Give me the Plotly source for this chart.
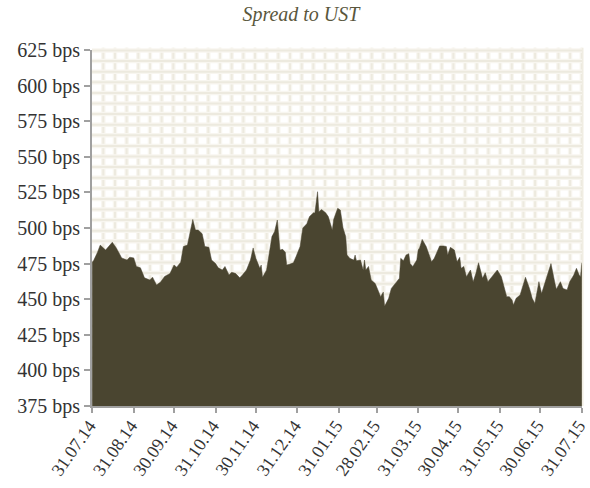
import numpy as np
import pandas as pd
import plotly.graph_objects as go

start_date = "2014-07-31"
day_offsets = [0, 1, 4, 6, 10, 12, 15, 18, 22, 26, 28, 31, 33, 36, 39, 43, 45, 48, 51, 54,
               58, 61, 63, 66, 68, 71, 73, 75, 77, 79, 82, 84, 87, 89, 92, 94, 97, 99, 102, 104,
               107, 110, 112, 115, 118, 120, 122, 125, 126, 127, 130, 132, 134, 136, 138, 140, 142, 144, 145, 147,
               150, 152, 155, 157, 160, 162, 165, 166, 168, 169, 171, 174, 176, 179, 180, 183, 185, 187, 189, 190,
               192, 195, 196, 197, 200, 202, 203, 204, 206, 208, 211, 213, 215, 217, 218, 221, 223, 227, 229, 230,
               232, 234, 236, 237, 239, 242, 243, 244, 246, 249, 253, 255, 259, 262, 264, 265, 267, 270, 272, 274,
               275, 277, 279, 282, 284, 286, 288, 291, 293, 295, 299, 302, 305, 308, 309, 311, 313, 314, 316, 319,
               321, 323, 326, 328, 330, 333, 335, 339, 342, 345, 346, 349, 351, 354, 356, 359, 361, 363, 364, 365]
spread_bps = [476, 477, 483, 488, 484.5, 487, 490, 486, 479, 477.5, 479.5, 479, 473, 472, 465, 463.5, 465.5, 460, 462, 466,
              468, 474, 472.5, 476, 487, 488, 496, 506, 498.6, 498.6, 496, 487, 486.5, 477.5, 475, 472, 470.5, 473, 467, 469,
              468, 465, 467, 470.5, 477.5, 486, 478.7, 471.7, 474, 465.4, 470.5, 481, 494, 497.5, 505.6, 484.5, 485, 483, 474, 474.5,
              475.6, 480, 487, 500, 503, 508, 510.7, 510.5, 525.5, 511.4, 513, 510.7, 508, 498.6, 506, 513.8, 512.6, 500, 494, 481,
              478.7, 477.5, 481, 477, 477.5, 470.5, 477.5, 470.5, 473, 463.5, 461, 456.5, 451.8, 455, 445, 450.6, 457.6, 462.3, 464.7, 478.7,
              477, 481, 482, 475, 473, 477.5, 484.5, 486, 492, 487, 476.3, 478.7, 487.4, 487.4, 487, 481, 486.4, 484.5, 476.3, 479.4,
              471.7, 473, 465.8, 470.5, 462.3, 468, 475.6, 464.7, 468.6, 462.3, 467, 470.5, 465.8, 456.5, 451.8, 451.8, 449.4, 446, 450.6, 453,
              460, 465.4, 457.6, 450.6, 447, 462.3, 454, 465.8, 475, 461, 457, 462.3, 457.6, 456.5, 462.3, 467, 471.7, 467, 465.8, 475.6]
tick_dates = ["2014-07-31", "2014-08-31", "2014-09-30", "2014-10-31", "2014-11-30", "2014-12-31",
              "2015-01-31", "2015-02-28", "2015-03-31", "2015-04-30", "2015-05-31", "2015-06-30", "2015-07-31"]
y_ticks = [375, 400, 425, 450, 475, 500, 525, 550, 575, 600, 625]
title_text = "Spread to UST"

dates = pd.Timestamp(start_date) + pd.to_timedelta(day_offsets, unit="D")
x_range = [pd.Timestamp(tick_dates[0]) - pd.Timedelta(hours=3),
           pd.Timestamp(tick_dates[-1]) + pd.Timedelta(hours=3)]

fig = go.Figure()
fig.add_trace(go.Scatter(
    x=dates, y=spread_bps, mode="lines", fill="tozeroy",
    line=dict(color="#4a4530", width=0.5), fillcolor="#4a4530",
    hoverinfo="x+y", showlegend=False,
))

# background lattice pattern
shapes = []
plot_w, plot_h = 490.0, 356.0
xs = np.arange(11.3, plot_w, 11.67)
ys = np.arange(0.5, plot_h, 10.6)
for xp in xs:
    for w, c in ((4.5, "#f8f6f0"), (2, "#edeadf")):
        shapes.append(dict(type="line", xref="paper", yref="paper", x0=xp / plot_w, x1=xp / plot_w,
                           y0=0, y1=1.006, line=dict(color=c, width=w), layer="below"))
for yp in ys:
    for w, c in ((4.5, "#f8f6f0"), (2, "#edeadf")):
        shapes.append(dict(type="line", xref="paper", yref="paper", x0=0, x1=1,
                           y0=1 - yp / plot_h, y1=1 - yp / plot_h, line=dict(color=c, width=w), layer="below"))

fig.update_layout(
    width=590, height=488,
    margin=dict(l=92, r=8, t=50, b=82, autoexpand=False),
    paper_bgcolor="white", plot_bgcolor="white",
    shapes=shapes,
    title=dict(text=title_text, x=0.51, xanchor="center", xref="container", yref="container", y=0.972, yanchor="middle",
               font=dict(family="Liberation Serif", size=20, color="#5a573d", style="italic")),
    font=dict(family="Liberation Serif", size=20, color="#333333"),
    xaxis=dict(
        type="date", range=x_range, automargin=False,
        tickvals=tick_dates, tickformat="%d.%m.%y", tickangle=-55,
        ticklabeloverflow="allow", ticklabelstandoff=-5, ticklabelshift=-3,
        showgrid=False, zeroline=False,
        showline=True, linecolor="#a0a0a0", linewidth=2,
        ticks="outside", ticklen=5, tickwidth=2, tickcolor="#a0a0a0",
        tickfont=dict(family="Liberation Serif", size=18, color="#333333"),
    ),
    yaxis=dict(
        range=[375, 625], tickvals=y_ticks, ticktext=[f"{v} bps" for v in y_ticks], automargin=False,
        showgrid=False, zeroline=False,
        showline=True, linecolor="#a0a0a0", linewidth=2,
        ticks="outside", ticklen=6, tickwidth=2, tickcolor="#a0a0a0",
        tickfont=dict(family="Liberation Serif", size=20, color="#333333"),
    ),
)

fig.write_html("out.html", config={"displayModeBar": False},
               post_script="document.body.style.margin='0';document.body.style.padding='0';")
